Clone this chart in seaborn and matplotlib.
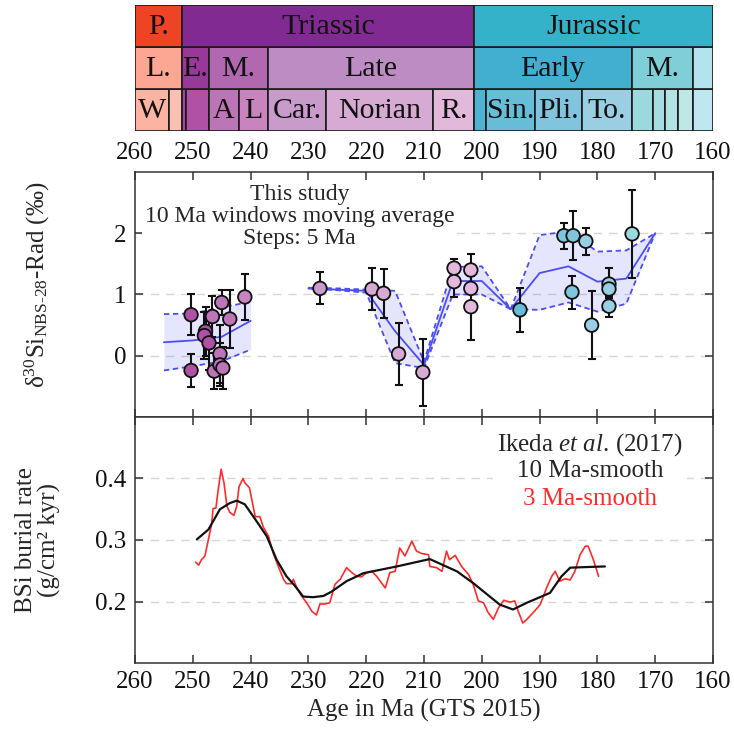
import numpy as np
import pandas as pd
import matplotlib
matplotlib.use("Agg")
import matplotlib.pyplot as plt
from matplotlib.patches import Rectangle
import seaborn as sns

# ---------------- geologic timescale (Ma) ----------------
PERIOD_NAMES = ["P.", "Triassic", "Jurassic"]
PERIOD_START = [260.0, 251.9, 201.3]
PERIOD_END = [251.9, 201.3, 160.0]
PERIOD_COLORS = ["#EF4326", "#812B92", "#34B2C9"]

EPOCH_NAMES = ["L.", "E.", "M.", "Late", "Early", "M.", ""]
EPOCH_START = [260.0, 251.9, 247.2, 237.0, 201.3, 174.1, 163.5]
EPOCH_END = [251.9, 247.2, 237.0, 201.3, 174.1, 163.5, 160.0]
EPOCH_COLORS = ["#FBA794", "#983999", "#B168B1", "#BD8CC3",
                "#42AED0", "#80CFD8", "#B3E3EE"]

STAGE_NAMES = ["W", "", "", "", "A", "L", "Car.", "Norian", "R.",
               "", "Sin.", "Pli.", "To.", "", "", "", "", ""]
STAGE_START = [260.0, 254.14, 251.9, 251.2, 247.2, 242.0, 237.0, 227.0, 208.5,
               201.3, 199.3, 190.8, 182.7, 174.1, 170.3, 168.3, 166.1, 163.5]
STAGE_END = [254.14, 251.9, 251.2, 247.2, 242.0, 237.0, 227.0, 208.5, 201.3,
             199.3, 190.8, 182.7, 174.1, 170.3, 168.3, 166.1, 163.5, 160.0]
STAGE_COLORS = ["#FCB4A2", "#FCC0B2", "#A4469F", "#B051A5", "#BC75B7", "#C983BF",
                "#C99BCB", "#D6AAD3", "#E3B9DB", "#4EB3D3", "#67BCD8", "#80C5DD",
                "#99CEE3", "#9AD9DD", "#A6DDE0", "#B3E2E3", "#BFE7E5", "#BFE7F1"]

# ---------------- d30Si data (this study) ----------------
AGE_SI = [250.3, 250.3, 247.8, 248.0, 247.2, 246.6, 246.3, 245.3, 245.0, 245.3,
          244.8, 243.6, 241.0, 228.0, 219.0, 217.0, 214.4, 210.2, 204.8, 204.8,
          201.9, 201.9, 201.9, 193.4, 185.8, 184.2, 184.4, 182.0, 181.0, 178.0,
          178.0, 178.0, 174.0]
D30SI = [0.67, -0.24, 0.40, 0.33, 0.21, 0.64, -0.25, 0.03, 0.87, -0.15,
         -0.20, 0.60, 0.96, 1.10, 1.09, 1.02, 0.03, -0.27, 1.43, 1.21,
         1.40, 1.10, 0.80, 0.75, 1.96, 1.96, 1.04, 1.87, 0.50, 1.17,
         1.09, 0.81, 1.99]
D30SI_ERR = [0.33, 0.27, 0.40, 0.38, 0.45, 0.34, 0.30, 0.48, 0.20, 0.35,
             0.34, 0.47, 0.38, 0.26, 0.35, 0.40, 0.50, 0.55, 0.15, 0.25,
             0.26, 0.20, 0.54, 0.36, 0.21, 0.40, 0.27, 0.22, 0.55, 0.27,
             0.15, 0.17, 0.72]

# 10 Ma moving average, 5 Ma steps (two segments)
MA1_AGE = [255, 250, 245, 240]
MA1_MEAN = [0.22, 0.25, 0.31, 0.57]
MA1_HIGH = [0.68, 0.69, 0.79, 0.88]
MA1_LOW = [-0.24, -0.17, -0.09, 0.10]

MA2_AGE = [230, 225, 220, 215, 210, 205, 200, 195, 190, 185, 180, 175, 170]
MA2_MEAN = [1.10, 1.08, 1.06, 0.40, -0.15, 1.22, 1.22, 0.76, 1.35, 1.46, 1.21, 1.26, 2.00]
MA2_HIGH = [1.11, 1.10, 1.08, 1.06, -0.10, 1.45, 1.46, 0.76, 1.97, 2.03, 1.70, 1.72, 2.00]
MA2_LOW = [1.10, 1.07, 1.03, -0.12, -0.20, 1.00, 1.00, 0.76, 0.75, 0.87, 0.72, 0.85, 2.00]

# ---------------- BSi burial rate (Ikeda et al. 2017) ----------------
AGE_3MA = [249.5, 249.0, 248.5, 247.9, 247.3, 246.7, 246.5, 246.0, 245.6, 245.1,
           244.6, 244.1, 243.6, 242.9, 242.4, 242.0, 241.3, 241.0, 240.2, 239.8,
           239.2, 238.4, 237.8, 236.9, 236.1, 235.2, 234.3, 233.8, 232.9, 232.6,
           232.0, 231.2, 230.3, 229.4, 228.6, 228.0, 227.1, 226.3, 225.4, 224.5,
           223.4, 222.5, 221.6, 220.8, 219.9, 219.0, 218.2, 216.7, 215.9, 215.0,
           214.2, 213.3, 212.1, 211.3, 210.4, 209.2, 209.0, 207.8, 206.9, 206.1,
           205.6, 204.6, 203.5, 202.3, 201.5, 200.6, 199.7, 198.9, 198.0, 197.1,
           196.2, 195.1, 194.3, 193.7, 192.9, 192.2, 191.1, 189.9, 188.8, 187.9,
           187.3, 186.5, 185.6, 184.7, 183.9, 183.0, 182.1, 181.6, 180.7, 179.8]
BSI_3MA = [0.264, 0.259, 0.268, 0.274, 0.301, 0.328, 0.351, 0.352, 0.382, 0.415,
           0.393, 0.355, 0.345, 0.340, 0.355, 0.387, 0.400, 0.393, 0.385, 0.366,
           0.338, 0.338, 0.321, 0.306, 0.279, 0.257, 0.236, 0.229, 0.229, 0.236,
           0.222, 0.209, 0.198, 0.184, 0.178, 0.196, 0.196, 0.198, 0.228, 0.236,
           0.255, 0.247, 0.241, 0.240, 0.247, 0.249, 0.241, 0.222, 0.247, 0.249,
           0.287, 0.274, 0.298, 0.282, 0.278, 0.276, 0.257, 0.255, 0.249, 0.282,
           0.268, 0.275, 0.257, 0.244, 0.228, 0.201, 0.198, 0.182, 0.171, 0.190,
           0.202, 0.199, 0.201, 0.184, 0.165, 0.171, 0.182, 0.195, 0.222, 0.241,
           0.249, 0.233, 0.237, 0.235, 0.249, 0.276, 0.290, 0.290, 0.268, 0.241]

AGE_10MA = [249.3, 247.3, 245.3, 243.6, 242.4, 241.0, 239.0, 237.2, 235.5, 233.8,
            232.3, 230.9, 229.2, 227.4, 226.0, 223.4, 221.6, 220.5, 214.7, 209.0,
            204.3, 201.5, 196.9, 194.6, 192.2, 188.2, 186.2, 184.7, 181.9, 178.7]
BSI_10MA = [0.301, 0.317, 0.350, 0.360, 0.364, 0.358, 0.331, 0.306, 0.268, 0.241,
            0.225, 0.208, 0.207, 0.209, 0.216, 0.233, 0.241, 0.246, 0.257, 0.269,
            0.249, 0.230, 0.195, 0.187, 0.198, 0.214, 0.241, 0.255, 0.256, 0.257]

sns.set_theme(style="ticks")
plt.rcParams["font.family"] = ["Liberation Serif", "DejaVu Serif"]
plt.rcParams["mathtext.fontset"] = "custom"
plt.rcParams["mathtext.rm"] = "Liberation Serif"
plt.rcParams["mathtext.it"] = "Liberation Serif:italic"
plt.rcParams["axes.edgecolor"] = "#333333"
plt.rcParams["axes.linewidth"] = 1.1

W, H = 734, 729
fig = plt.figure(figsize=(W / 100, H / 100), dpi=100)
ax_ts = fig.add_axes([135 / W, 1 - 131 / H, 578 / W, 126 / H])
ax1 = fig.add_axes([135 / W, 1 - 417 / H, 578 / W, 245 / H])
ax2 = fig.add_axes([135 / W, 1 - 663 / H, 578 / W, 246 / H], sharex=ax1)


def draw_row(ax, starts, ends, names, colors, y0):
    for s, e, n, c in zip(starts, ends, names, colors):
        ax.add_patch(Rectangle((e, y0), s - e, 1, facecolor=c,
                               edgecolor="#1a1a1a", lw=1.2))
        if n:
            ax.text((s + e) / 2, y0 + 0.47, n, ha="center", va="center",
                    fontsize=21.5, color="#111111")


draw_row(ax_ts, STAGE_START, STAGE_END, STAGE_NAMES, STAGE_COLORS, 0)
draw_row(ax_ts, EPOCH_START, EPOCH_END, EPOCH_NAMES, EPOCH_COLORS, 1)
draw_row(ax_ts, PERIOD_START, PERIOD_END, PERIOD_NAMES, PERIOD_COLORS, 2)
ax_ts.set_xlim(260, 160)
ax_ts.set_ylim(0, 3)
ax_ts.axis("off")


def stage_color(age):
    for s, e, c in zip(STAGE_START, STAGE_END, STAGE_COLORS):
        if e <= age < s:
            return c
    return "#cccccc"


grid_kw = dict(color="#d6d6d6", lw=1.0, linestyle=(0, (6, 5)), zorder=0)
blue = "#4D4DF7"

# ---- panel 1: d30Si ----
for y in [0, 1, 2]:
    ax1.axhline(y, **grid_kw)
for ages, mean, hi, lo in [(MA1_AGE, MA1_MEAN, MA1_HIGH, MA1_LOW),
                           (MA2_AGE, MA2_MEAN, MA2_HIGH, MA2_LOW)]:
    ax1.fill_between(ages, lo, hi, color=blue, alpha=0.14, lw=0, zorder=1)
    sns.lineplot(x=ages, y=mean, color=blue, lw=1.3, estimator=None, sort=False,
                 ax=ax1, zorder=2)
    for band in (hi, lo):
        sns.lineplot(x=ages, y=band, color=blue, lw=1.3, estimator=None, sort=False,
                     linestyle=(0, (3, 2)), ax=ax1, zorder=2)

ax1.errorbar(AGE_SI, D30SI, yerr=D30SI_ERR, fmt="none", ecolor="#111111",
             elinewidth=1.5, capsize=3, capthick=1.5, zorder=3)
si_df = pd.DataFrame({"age": AGE_SI, "d30": D30SI})
si_df["color"] = [stage_color(a) for a in AGE_SI]
sns.scatterplot(data=si_df, x="age", y="d30", hue="color",
                palette={c: c for c in si_df["color"].unique()},
                s=95, edgecolor="#111111", linewidth=1.3, legend=False,
                ax=ax1, zorder=4)

ax1.text(231.5, 2.27, "This study\n10 Ma windows moving average\nSteps: 5 Ma",
         ha="center", va="center", fontsize=17, linespacing=1.05,
         bbox=dict(facecolor="white", edgecolor="none", pad=2), zorder=5)
ax1.set_ylim(-1, 3)
ax1.set_yticks([0, 1, 2])
ax1.set_xlim(260, 160)
ax1.set_xticks(np.arange(260, 159, -10))
ax1.set_xlabel("")
ax1.set_ylabel("")

# ---- panel 2: BSi burial rate ----
for y in [0.2, 0.3, 0.4]:
    ax2.axhline(y, **grid_kw)
sns.lineplot(x=AGE_3MA, y=BSI_3MA, color="#FF2B2B", lw=1.2, estimator=None,
             sort=False, ax=ax2, zorder=2)
sns.lineplot(x=AGE_10MA, y=BSI_10MA, color="#111111", lw=1.6, estimator=None,
             sort=False, ax=ax2, zorder=3)
ax2.text(181.3, 0.436, "Ikeda $\\mathit{et\\ al.}\\,$(2017)\n10 Ma-smooth",
         ha="center", va="center", fontsize=18, linespacing=1.15,
         bbox=dict(facecolor="white", edgecolor="none", pad=3), zorder=5)
ax2.text(181.3, 0.366, "3 Ma-smooth", ha="center", va="center", fontsize=18,
         color="#FF2B2B", zorder=5)
ax2.set_ylim(0.1, 0.5)
ax2.set_yticks([0.2, 0.3, 0.4])
ax2.set_yticklabels(["0.2", "0.3", "0.4"])
ax2.set_xlabel("Age in Ma (GTS 2015)", fontsize=18, labelpad=4)
ax2.set_ylabel("")

tick_kw = dict(direction="in", length=6, width=1.1, color="#333333",
               labelsize=18, labelcolor="#111111", top=True, right=True)
ax1.tick_params(axis="both", pad=6, **tick_kw)
ax1.tick_params(axis="x", labeltop=True, labelbottom=False)
ax2.tick_params(axis="both", pad=6, **tick_kw)
ax2.tick_params(axis="x", labeltop=False, labelbottom=True)

fig.text(37 / W, 1 - 285 / H, "δ$^{30}$Si$_{\\mathrm{NBS‐28}}$-Rad (‰)",
         rotation=90, ha="center", va="center", fontsize=18)
fig.text(38 / W, 1 - 540 / H, "BSi burial rate\n(g/cm² kyr)",
         rotation=90, ha="center", va="center", fontsize=18, linespacing=1.1)

fig.savefig("out.png", dpi=100)
